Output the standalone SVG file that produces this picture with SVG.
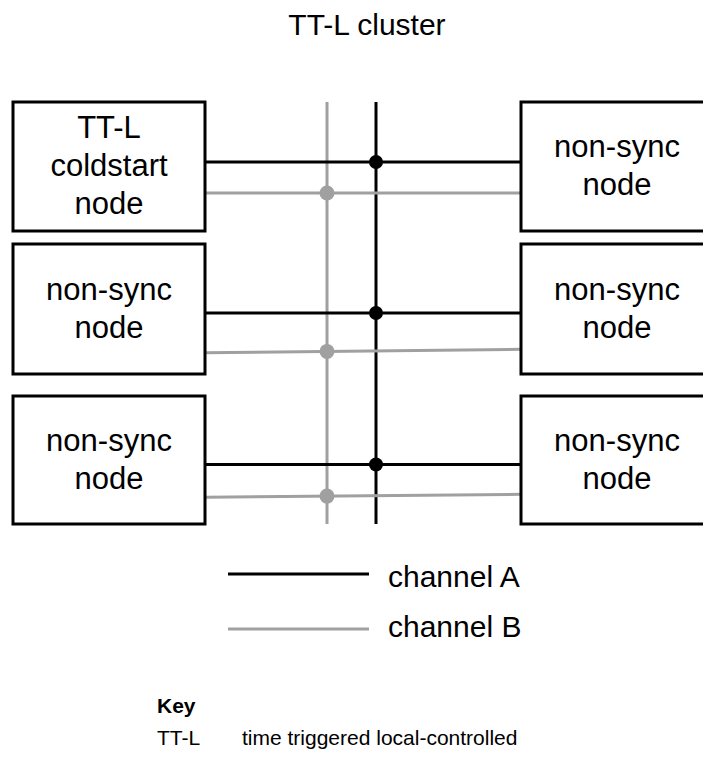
<svg xmlns="http://www.w3.org/2000/svg" width="703" height="758" viewBox="0 0 703 758">
<style>
  text { font-family: "Liberation Sans", Arial, sans-serif; fill: #000; }
  .big { font-size: 31px; text-anchor: middle; }
  .box { fill: #fff; stroke: #000; stroke-width: 3; }
  .a { stroke: #000; stroke-width: 3; fill: none; }
  .b { stroke: #a0a0a0; stroke-width: 3; fill: none; }
  .da { fill: #000; }
  .db { fill: #a0a0a0; }
</style>
<rect width="703" height="758" fill="#fff"/>
<text x="367" y="35" style="font-size:30px" text-anchor="middle">TT-L cluster</text>

<g id="connectors">
  <line class="b" x1="327" y1="102" x2="327" y2="524"/>
  <line class="a" x1="376" y1="102" x2="376" y2="524"/>
  <line class="a" x1="205" y1="162" x2="521" y2="162"/>
  <line class="b" x1="205" y1="193" x2="521" y2="193"/>
  <line class="a" x1="205" y1="313" x2="521" y2="313"/>
  <line class="b" x1="205" y1="352.7" x2="521" y2="349.3"/>
  <line class="a" x1="205" y1="464.5" x2="521" y2="464.5"/>
  <line class="b" x1="205" y1="497.3" x2="521" y2="494.3"/>
  <circle class="da" cx="376" cy="162" r="7"/>
  <circle class="da" cx="376" cy="313" r="7"/>
  <circle class="da" cx="376" cy="464.5" r="7"/>
  <circle class="db" cx="327" cy="193" r="7.5"/>
  <circle class="db" cx="327" cy="351.4" r="7.5"/>
  <circle class="db" cx="327" cy="496.1" r="7.5"/>
</g>

<g id="node-l1">
  <rect class="box" x="13" y="102" width="192" height="129"/>
  <text class="big" x="109" y="138">TT-L</text>
  <text class="big" x="109" y="176">coldstart</text>
  <text class="big" x="109" y="214">node</text>
</g>
<g id="node-l2">
  <rect class="box" x="13" y="244" width="192" height="130"/>
  <text class="big" x="109" y="300">non-sync</text>
  <text class="big" x="109" y="338">node</text>
</g>
<g id="node-l3">
  <rect class="box" x="13" y="396" width="192" height="128"/>
  <text class="big" x="109" y="451">non-sync</text>
  <text class="big" x="109" y="489">node</text>
</g>
<g id="node-r1">
  <rect class="box" x="521" y="102" width="192" height="129"/>
  <text class="big" x="617" y="157">non-sync</text>
  <text class="big" x="617" y="195">node</text>
</g>
<g id="node-r2">
  <rect class="box" x="521" y="244" width="192" height="130"/>
  <text class="big" x="617" y="300">non-sync</text>
  <text class="big" x="617" y="338">node</text>
</g>
<g id="node-r3">
  <rect class="box" x="521" y="396" width="192" height="128"/>
  <text class="big" x="617" y="451">non-sync</text>
  <text class="big" x="617" y="489">node</text>
</g>

<g id="legend">
  <line class="a" x1="228" y1="574" x2="369" y2="574"/>
  <line class="b" x1="228" y1="629" x2="369" y2="629"/>
  <text x="388" y="587" style="font-size:30px">channel A</text>
  <text x="388" y="637" style="font-size:30px">channel B</text>
</g>

<g id="key">
  <text x="157" y="713" style="font-size:21px;font-weight:bold">Key</text>
  <text x="157" y="745" style="font-size:21px">TT-L</text>
  <text x="242" y="745" style="font-size:21px">time triggered local-controlled</text>
</g>
</svg>
